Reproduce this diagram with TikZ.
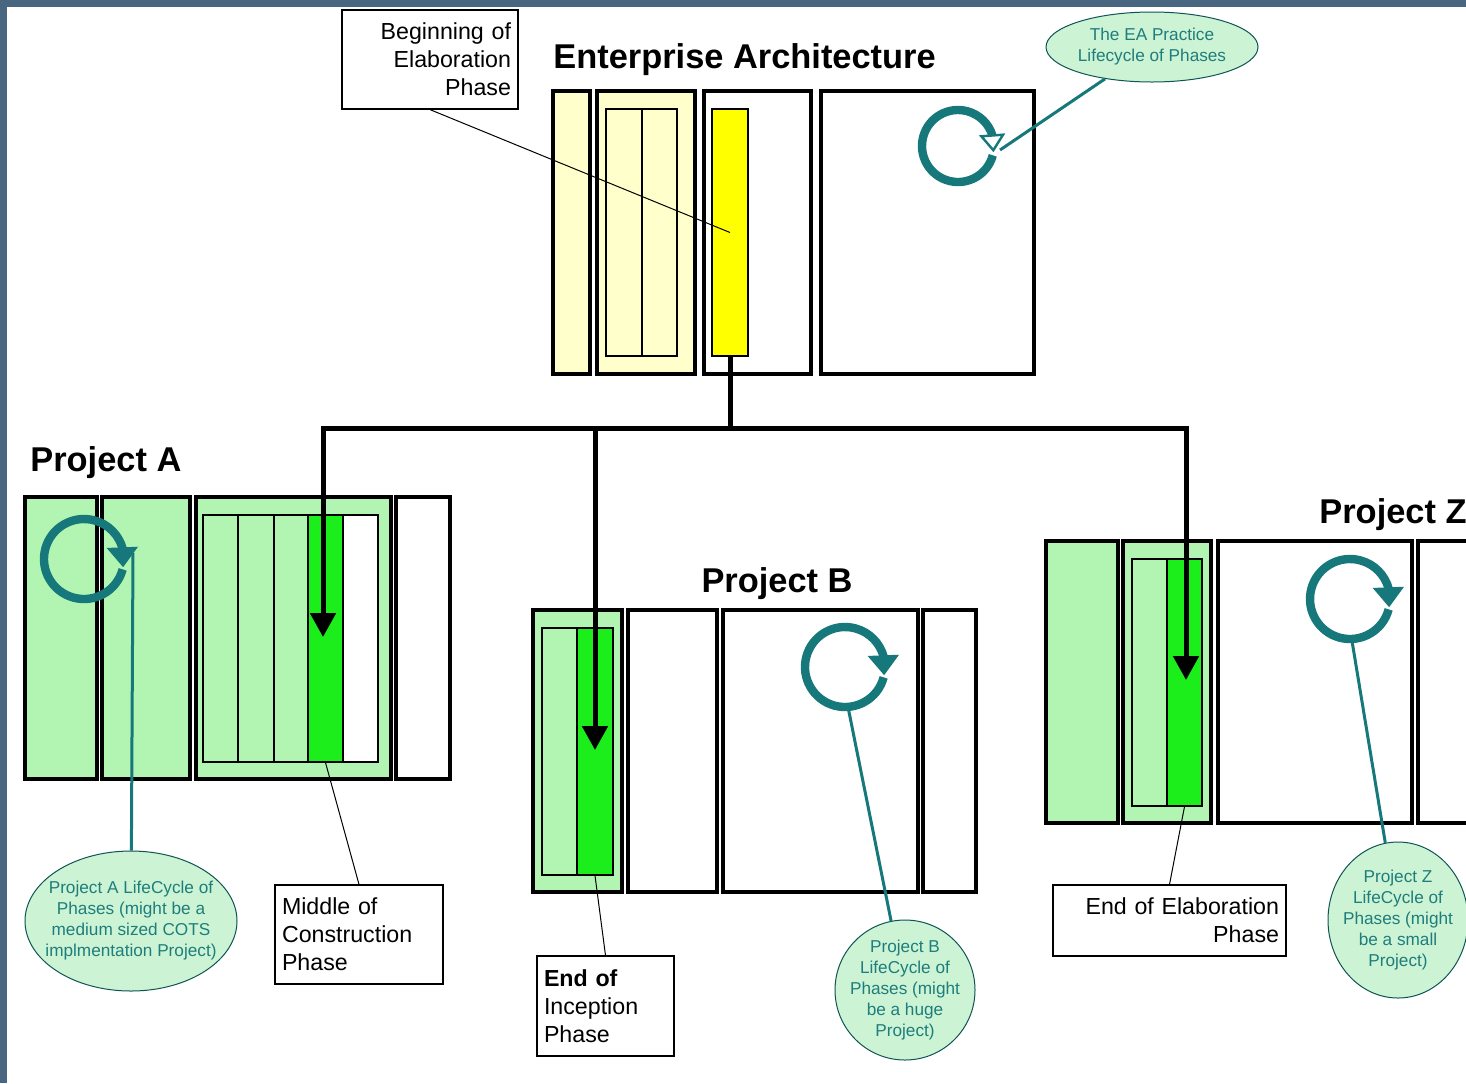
\documentclass[tikz,border=0pt]{standalone}
\usepackage{fontspec}
\setmainfont{Liberation Sans}
\usetikzlibrary{arrows.meta,bending,fit,shapes.geometric,positioning}
\definecolor{frame}{RGB}{72,102,128}
\definecolor{paleyellow}{RGB}{255,255,204}
\definecolor{hotyellow}{RGB}{255,255,0}
\definecolor{palegreen}{RGB}{178,245,178}
\definecolor{hotgreen}{RGB}{28,238,28}
\definecolor{cycteal}{RGB}{22,120,122}
\definecolor{notefill}{RGB}{204,244,212}
\definecolor{notetext}{RGB}{30,125,125}

\begin{document}
\begin{tikzpicture}[x=0.5pt,y=-0.5pt,
    phase/.style={draw,line width=2pt,inner sep=0pt},
    subphase/.style={draw,line width=0.6pt,inner sep=0pt},
    heading/.style={font=\fontsize{17.2}{20}\selectfont\bfseries,inner sep=0pt},
    lbl/.style={draw,line width=0.6pt,fill=white,inner sep=3.5pt,
      font=\fontsize{11.6}{14}\selectfont},
    note/.style={ellipse,draw=cycteal!70!black,line width=0.5pt,fill=notefill,
      text=notetext,inner xsep=-12pt,inner ysep=-6pt,align=center,
      font=\fontsize{8.6}{10.5}\selectfont},
    bus/.style={line width=2.5pt,line join=miter},
    drop/.style={bus,-{Triangle[length=12pt,width=12.5pt]}},
    cyc/.style={cycteal,line width=4.2pt,-{Triangle[length=10pt,width=15pt]}},
    pointer/.style={cycteal,line width=1.5pt},
    leader/.style={line width=0.5pt}]
  \useasboundingbox (0,0) rectangle (1466,1083);
  \fill[frame] (0,0) rectangle (1466,1083);
  \fill[white] (7,7) rectangle (1466,1083);
  \clip (0,0) rectangle (1466,1083);

  \node[heading,anchor=base west] (eaTitle) at (553,68) {Enterprise Architecture};
  \node[phase,fill=paleyellow,fit={(553,91) (590,374)}] (ea1) {};
  \node[phase,fill=paleyellow,fit={(597,91) (695,374)}] (ea2) {};
  \node[phase,fill=white,fit={(704,91) (811,374)}] (ea3) {};
  \node[phase,fill=white,fit={(821,91) (1034,374)}] (ea4) {};
  \node[subphase,fit={(606,109) (642,356)}] (ea2a) {};
  \node[subphase,fit={(642,109) (677,356)}] (ea2b) {};
  \node[subphase,fill=hotyellow,fit={(712,109) (748,356)}] (eaBar) {};

  \node[heading,anchor=base west] (paTitle) at (30,471) {Project A};
  \node[phase,fill=palegreen,fit={(25,497) (97,779)}] (pa1) {};
  \node[phase,fill=palegreen,fit={(102,497) (190,779)}] (pa2) {};
  \node[phase,fill=palegreen,fit={(196,497) (391,779)}] (pa3) {};
  \node[phase,fill=white,fit={(396,497) (450,779)}] (pa4) {};
  \node[subphase,fit={(203,515) (238,762)}] (pa3a) {};
  \node[subphase,fit={(238,515) (274,762)}] (pa3b) {};
  \node[subphase,fit={(274,515) (308,762)}] (pa3c) {};
  \node[subphase,fill=hotgreen,fit={(308,515) (343,762)}] (paCur) {};
  \node[subphase,fill=white,fit={(343,515) (378,762)}] (paNext) {};

  \node[heading,anchor=base] (pbTitle) at (777,592) {Project B};
  \node[phase,fill=palegreen,fit={(533,610) (622,892)}] (pb1) {};
  \node[phase,fill=white,fit={(628,610) (717,892)}] (pb2) {};
  \node[phase,fill=white,fit={(723,610) (918,892)}] (pb3) {};
  \node[phase,fill=white,fit={(923,610) (976,892)}] (pb4) {};
  \node[subphase,fit={(542,628) (577,875)}] (pb1a) {};
  \node[subphase,fill=hotgreen,fit={(577,628) (613,875)}] (pbCur) {};

  \node[heading,anchor=base west] (pzTitle) at (1319,523) {Project Z};
  \node[phase,fill=palegreen,fit={(1046,541) (1118,823)}] (pz1) {};
  \node[phase,fill=palegreen,fit={(1123,541) (1211,823)}] (pz2) {};
  \node[phase,fill=white,fit={(1218,541) (1412,823)}] (pz3) {};
  \node[phase,fill=white,fit={(1418,541) (1500,823)}] (pz4) {};
  \node[subphase,fit={(1132,559) (1167,806)}] (pz2a) {};
  \node[subphase,fill=hotgreen,fit={(1167,559) (1202,806)}] (pzCur) {};

  \coordinate (eaHub) at (958,146);
  \coordinate (paHub) at (84,559);
  \coordinate (pbHub) at (845,667);
  \coordinate (pzHub) at (1350,599);
  \draw[cyc,-{Triangle[length=9pt,width=13pt,fill=white,line width=1.2pt]}]
    (eaHub) ++(15:36) arc[start angle=15,end angle=370,radius=36];
  \draw[cyc] (paHub) ++(15:40) arc[start angle=15,end angle=372,radius=40];
  \draw[cyc] (pbHub) ++(15:40) arc[start angle=15,end angle=372,radius=40];
  \draw[cyc] (pzHub) ++(15:40) arc[start angle=15,end angle=372,radius=40];

  \coordinate (busL) at (323,428);
  \coordinate (busB) at (595,428);
  \coordinate (busR) at (1186,428);
  \coordinate (aTip) at (323,637);
  \coordinate (bTip) at (595,750);
  \coordinate (zTip) at (1186,680);
  \draw[bus] (eaBar.south) -- (eaBar.south |- busL);
  \draw[drop] (busR) -- (busL) -- (aTip);
  \draw[drop] (busL) -- (busR) -- (zTip);
  \draw[drop] (busB) -- (bTip);

  \node[lbl,text width=81pt,minimum height=49.5pt,align=right] (lblBegin)
    at (430,59.5) {Beginning of\\Elaboration\\Phase};
  \node[lbl,text width=77pt,minimum height=49.5pt,align=left] (lblMid)
    at (359,934.5) {Middle of\\Construction\\Phase};
  \node[lbl,text width=61.5pt,minimum height=50pt,align=left] (lblIncep)
    at (605.5,1006) {\textbf{End of}\\Inception\\Phase};
  \node[lbl,text width=109.5pt,minimum height=35.5pt,align=right] (lblElab)
    at (1169.5,920.5) {End of Elaboration\\Phase};
  \draw[leader] (lblBegin.south) -- (eaBar.center);
  \draw[leader] (lblMid.north) -- (paCur.south);
  \draw[leader] (lblIncep.north) -- (pbCur.south);
  \draw[leader] (lblElab.north) -- (pzCur.south);

  \node[note,minimum width=106pt,minimum height=35pt] (noteEA) at (1152,47)
    {The EA Practice\\Lifecycle of Phases};
  \node[note,minimum width=106pt,minimum height=70pt] (noteA) at (131,921)
    {Project A LifeCycle of\\Phases (might be a\\medium sized COTS\\implmentation Project)};
  \node[note,minimum width=70pt,minimum height=70pt] (noteB) at (905,990)
    {Project B\\LifeCycle of\\Phases (might\\be a huge\\Project)};
  \node[note,minimum width=70pt,minimum height=78pt] (noteZ) at (1398,920)
    {Project Z\\LifeCycle of\\Phases (might\\be a small\\Project)};
  \coordinate (eaPin) at (1000,150);
  \coordinate (paPin) at (133,553);
  \coordinate (pbPin) at (848,707);
  \coordinate (pzPin) at (1352,641);
  \draw[pointer] (noteEA) -- (eaPin);
  \draw[pointer] (noteA) -- (paPin);
  \draw[pointer] (noteB) -- (pbPin);
  \draw[pointer] (noteZ) -- (pzPin);
\end{tikzpicture}
\end{document}
